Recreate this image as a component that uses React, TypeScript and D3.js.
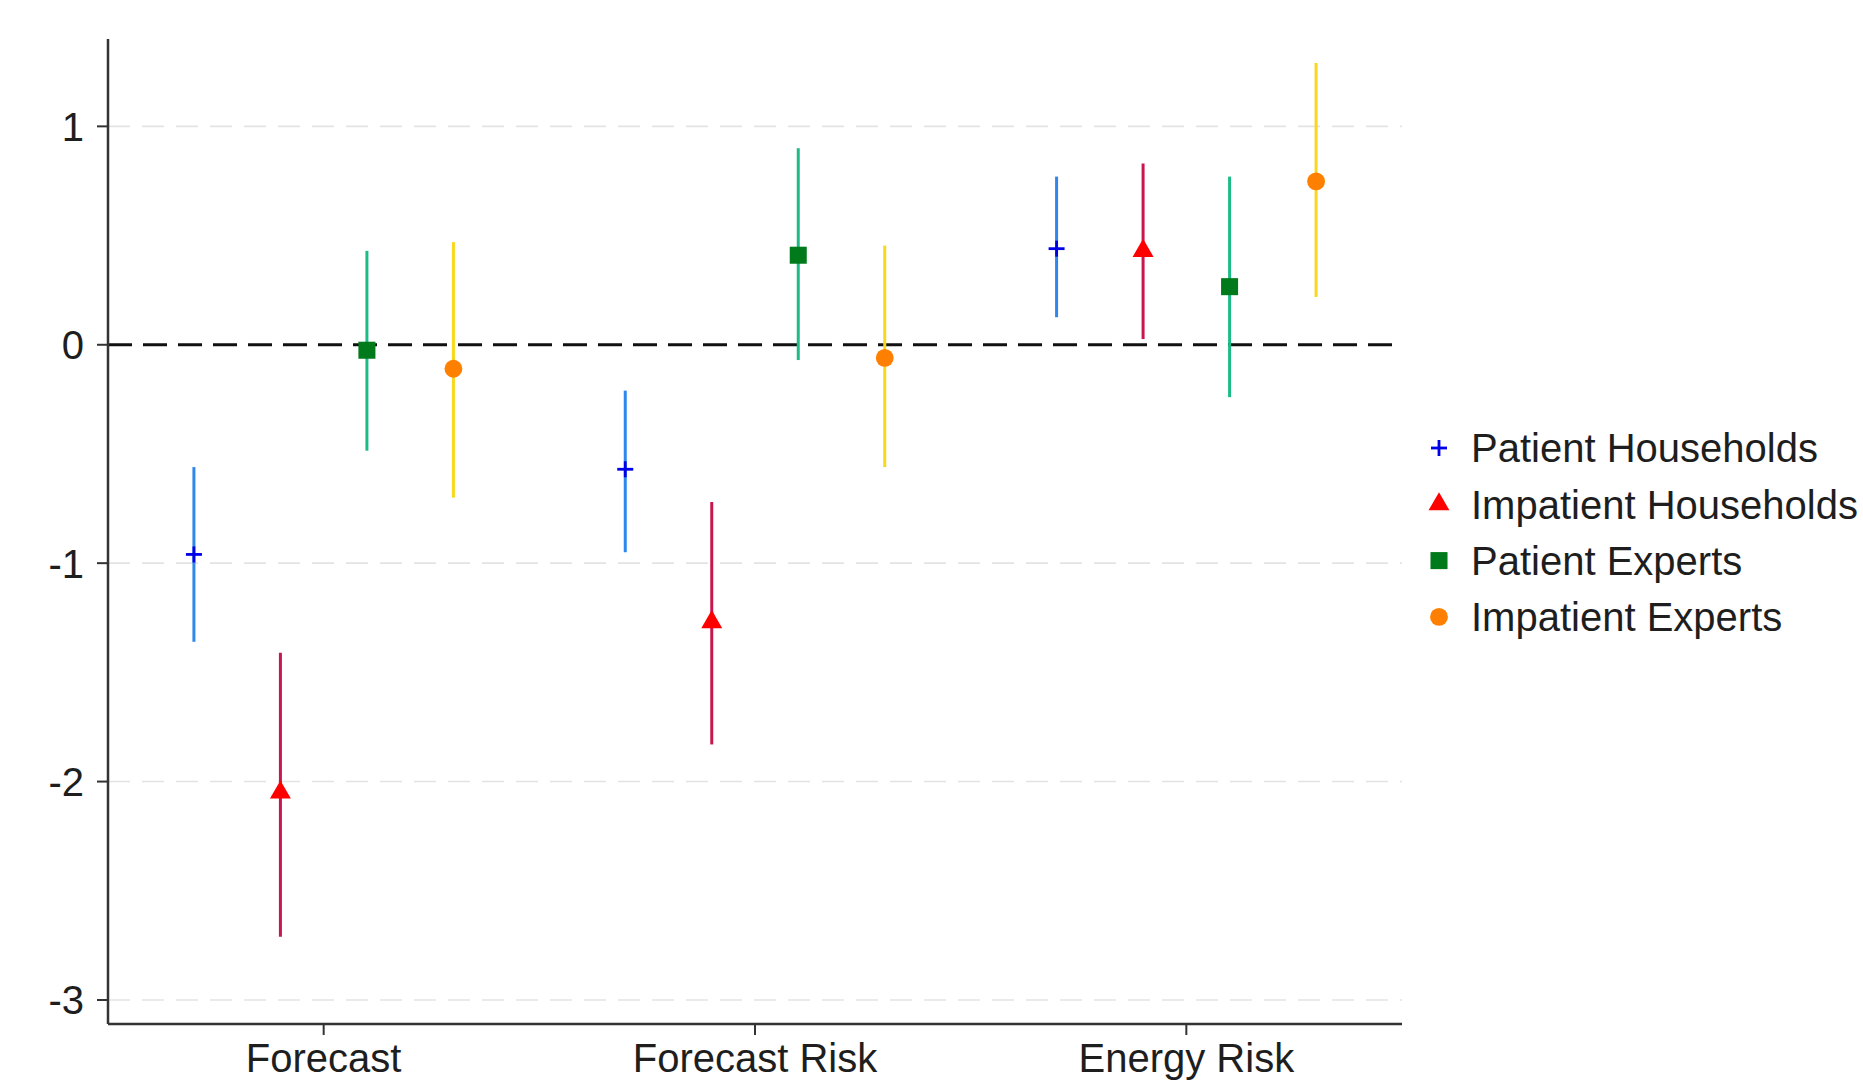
import React from 'react';
import * as d3 from 'd3';

// categories on the x axis
const categories = ['Forecast', 'Forecast Risk', 'Energy Risk'];
const seriesNames = ['Patient Households', 'Impatient Households', 'Patient Experts', 'Impatient Experts'];
const yTicks = [-3, -2, -1, 0, 1];

// point estimates per series, one per category
const patientHouseholds = [-0.96, -0.57, 0.44];
const impatientHouseholds = [-2.05, -1.27, 0.43];
const patientExperts = [-0.025, 0.41, 0.266];
const impatientExperts = [-0.11, -0.06, 0.748];

// confidence interval bounds
const patientHouseholdsLow = [-1.36, -0.95, 0.126];
const patientHouseholdsHigh = [-0.56, -0.21, 0.77];
const impatientHouseholdsLow = [-2.71, -1.83, 0.026];
const impatientHouseholdsHigh = [-1.41, -0.72, 0.83];
const patientExpertsLow = [-0.485, -0.07, -0.24];
const patientExpertsHigh = [0.43, 0.9, 0.77];
const impatientExpertsLow = [-0.7, -0.56, 0.219];
const impatientExpertsHigh = [0.47, 0.454, 1.29];

const estimates = [patientHouseholds, impatientHouseholds, patientExperts, impatientExperts];
const lows = [patientHouseholdsLow, impatientHouseholdsLow, patientExpertsLow, impatientExpertsLow];
const highs = [patientHouseholdsHigh, impatientHouseholdsHigh, patientExpertsHigh, impatientExpertsHigh];

const lineColors = ['#2f86ec', '#c8174f', '#1dbc86', '#f7d81c'];
const markerColors = ['#0000e6', '#ff0000', '#007a1a', '#ff8000'];

const FONT = '"Liberation Sans", Arial, sans-serif';
const TEXT = '#1e1e1e';

const width = 1863;
const height = 1082;
const margin = { top: 39, right: 461, bottom: 58, left: 108 };

const Marker = ({ i, x, y }) => {
  if (i === 0) {
    return (
      <g stroke={markerColors[0]} strokeWidth={2.8}>
        <line x1={x - 8} x2={x + 8} y1={y} y2={y} />
        <line x1={x} x2={x} y1={y - 8} y2={y + 8} />
      </g>
    );
  }
  const types = [null, d3.symbolTriangle, d3.symbolSquare, d3.symbolCircle];
  const sizes = [0, 190, 290, 250];
  const path = d3.symbol().type(types[i]).size(sizes[i])();
  return <path d={path} transform={`translate(${x},${y})`} fill={markerColors[i]} />;
};

export default function App() {
  const x = d3.scaleBand().domain(categories).range([margin.left, width - margin.right]).padding(0);
  const x1 = d3.scaleBand().domain(seriesNames).range([-173, 173]).padding(0);
  const y = d3.scaleLinear().domain([-3.11, 1.4]).range([height - margin.bottom, margin.top]);

  const left = margin.left;
  const right = width - margin.right;
  const bottom = height - margin.bottom;

  const sx = (c, s) => x(c) + x.bandwidth() / 2 + x1(s) + x1.bandwidth() / 2;

  return (
    <svg width={width} height={height} style={{ position: 'absolute', left: 0, top: 0, background: '#fff' }}>
      {/* gridlines */}
      {yTicks.filter(t => t !== 0).map(t => (
        <line key={t} x1={left} x2={right} y1={y(t)} y2={y(t)} stroke="#e3e3e3" strokeWidth={1.6} strokeDasharray="22 12" />
      ))}
      {/* zero reference line */}
      <line x1={left} x2={right} y1={y(0)} y2={y(0)} stroke="#111" strokeWidth={3.2} strokeDasharray="24 11" />

      {/* axes */}
      <line x1={left} x2={left} y1={margin.top} y2={bottom} stroke="#333" strokeWidth={2.5} />
      <line x1={left} x2={right} y1={bottom} y2={bottom} stroke="#333" strokeWidth={2.5} />
      {yTicks.map(t => (
        <g key={t}>
          <line x1={left - 11} x2={left} y1={y(t)} y2={y(t)} stroke="#333" strokeWidth={2} />
          <text x={left - 24} y={y(t)} dy="0.36em" textAnchor="end" fontFamily={FONT} fontSize={40} fill={TEXT}>{t}</text>
        </g>
      ))}
      {categories.map(c => (
        <g key={c}>
          <line x1={x(c) + x.bandwidth() / 2} x2={x(c) + x.bandwidth() / 2} y1={bottom} y2={bottom + 11} stroke="#333" strokeWidth={2} />
          <text x={x(c) + x.bandwidth() / 2} y={1072} textAnchor="middle" fontFamily={FONT} fontSize={40} fill={TEXT}>{c}</text>
        </g>
      ))}

      {/* confidence intervals */}
      {seriesNames.map((s, i) => categories.map((c, j) => (
        <line key={s + c} x1={sx(c, s)} x2={sx(c, s)} y1={y(lows[i][j])} y2={y(highs[i][j])} stroke={lineColors[i]} strokeWidth={3} />
      )))}
      {/* point estimates */}
      {seriesNames.map((s, i) => categories.map((c, j) => (
        <Marker key={s + c} i={i} x={sx(c, s)} y={y(estimates[i][j])} />
      )))}

      {/* legend */}
      {seriesNames.map((s, i) => (
        <g key={s} transform={`translate(0,${448 + i * 56.3})`}>
          <Marker i={i} x={1439} y={0} />
          <text x={1471} y={0} dy="0.36em" fontFamily={FONT} fontSize={40} fill={TEXT}>{s}</text>
        </g>
      ))}
    </svg>
  );
}
